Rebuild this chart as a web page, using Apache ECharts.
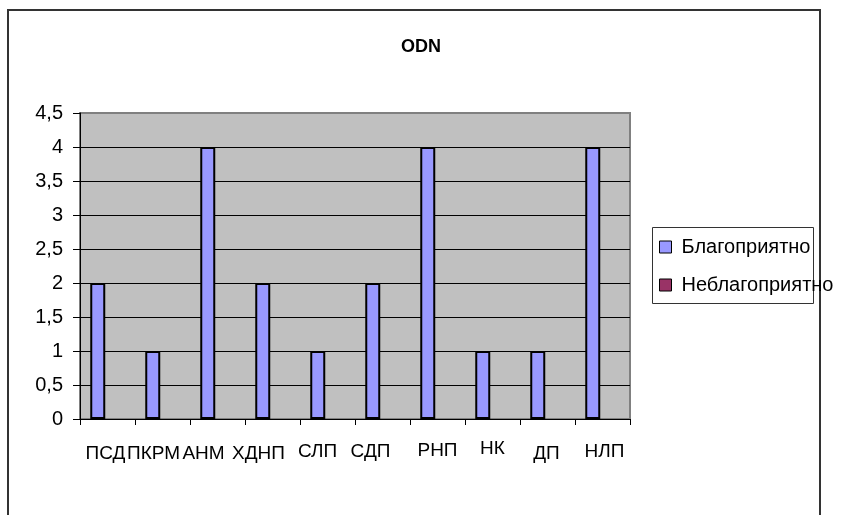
<!DOCTYPE html>
<html>
<head>
<meta charset="utf-8">
<script src="https://cdn.jsdelivr.net/npm/echarts@6/dist/echarts.min.js"></script>
<style>html,body{margin:0;padding:0;background:#fff}#c{width:844px;height:515px}</style>
</head>
<body>
<div id="c"></div>
<script>
const categories = ['ПСД','ПКРМ','АНМ','ХДНП','СЛП','СДП','РНП','НК','ДП','НЛП'];
const favourable = [2,1,4,2,1,2,4,1,1,4];
const unfavourable = [0,0,0,0,0,0,0,0,0,0];
const seriesNames = ['Благоприятно','Неблагоприятно'];
const yTicks = [0,0.5,1,1.5,2,2.5,3,3.5,4,4.5];

// label offsets [dx, dy] relative to category centre (reproduces reference placement)
const labelShift = [[-2,10],[-9,10],[-14,10],[-14,10],[-10,6],[-12,6],[0,3],[0,0],[-1,10],[2,6]];
const rich = {};
labelShift.forEach((s,i)=>{
  const dx=s[0], dy=s[1];
  rich['c'+i] = {
    fontFamily:'Liberation Sans, Arial, sans-serif', fontSize:19, color:'#000', lineHeight:20,
    padding:[dy, dx<0 ? -2*dx : 0, 0, dx>0 ? 2*dx : 0]
  };
});

const FONT = 'Liberation Sans, Arial, sans-serif';
const chart = echarts.init(document.getElementById('c'), null, {renderer:'canvas'});
chart.setOption({
  animation:false,
  backgroundColor:'#fff',
  title:{text:'ODN', left:416, top:33, textAlign:'center',
    textStyle:{fontFamily:FONT, fontSize:18, fontWeight:'bold', color:'#000'}},
  grid:{left:80, right:214, top:113, bottom:96, show:true, backgroundColor:'#C0C0C0', borderColor:'#808080', borderWidth:2},
  legend:{
    orient:'vertical', left:659, top:237, padding:0, itemWidth:12, itemHeight:12, itemGap:18, icon:'rect',
    data:[
      {name:seriesNames[0], itemStyle:{color:'#9999FF', borderColor:'#000', borderWidth:1}},
      {name:seriesNames[1], itemStyle:{color:'#993366', borderColor:'#000', borderWidth:1}}
    ],
    textStyle:{fontFamily:FONT, fontSize:20, color:'#000', lineHeight:20, padding:[0,0,0,5]}
  },
  xAxis:{
    type:'category', data:categories,
    axisLine:{lineStyle:{color:'#000', width:1}},
    axisTick:{show:true, length:6, lineStyle:{color:'#000'}},
    axisLabel:{margin:20, interval:0,
      formatter:(v,i)=>'{c'+i+'|'+v+'}', rich:rich}
  },
  yAxis:{
    type:'value', min:0, max:4.5, interval:0.5,
    axisLine:{show:true, lineStyle:{color:'#000', width:1}},
    axisTick:{show:true, length:7, lineStyle:{color:'#000'}},
    axisLabel:{margin:17, fontFamily:FONT, fontSize:20, color:'#000',
      formatter:v=>{const t=yTicks.find(x=>Math.abs(x-v)<1e-9); return String(t!==undefined?t:v).replace('.',',');}},
    splitLine:{show:true, lineStyle:{color:['#000','#000','#000','#000','#000','#000','#000','#000','#000','#808080'], width:1}}
  },
  series:[
    {name:seriesNames[0], type:'bar', data:favourable, barWidth:15, barGap:'30%',
      itemStyle:{color:'#9999FF', borderColor:'#000', borderWidth:2}},
    {name:seriesNames[1], type:'bar', data:unfavourable, barWidth:15,
      itemStyle:{color:'#993366', borderColor:'#000', borderWidth:0}}
  ],
  graphic:[
    {type:'rect', shape:{x:8, y:10, width:812, height:600}, style:{fill:null, stroke:'#333', lineWidth:2}, silent:true, z:-1},
    {type:'rect', shape:{x:652.5, y:227.5, width:161, height:76}, style:{fill:null, stroke:'#333', lineWidth:1}, silent:true, z:-1}
  ]
});
</script>
</body>
</html>
